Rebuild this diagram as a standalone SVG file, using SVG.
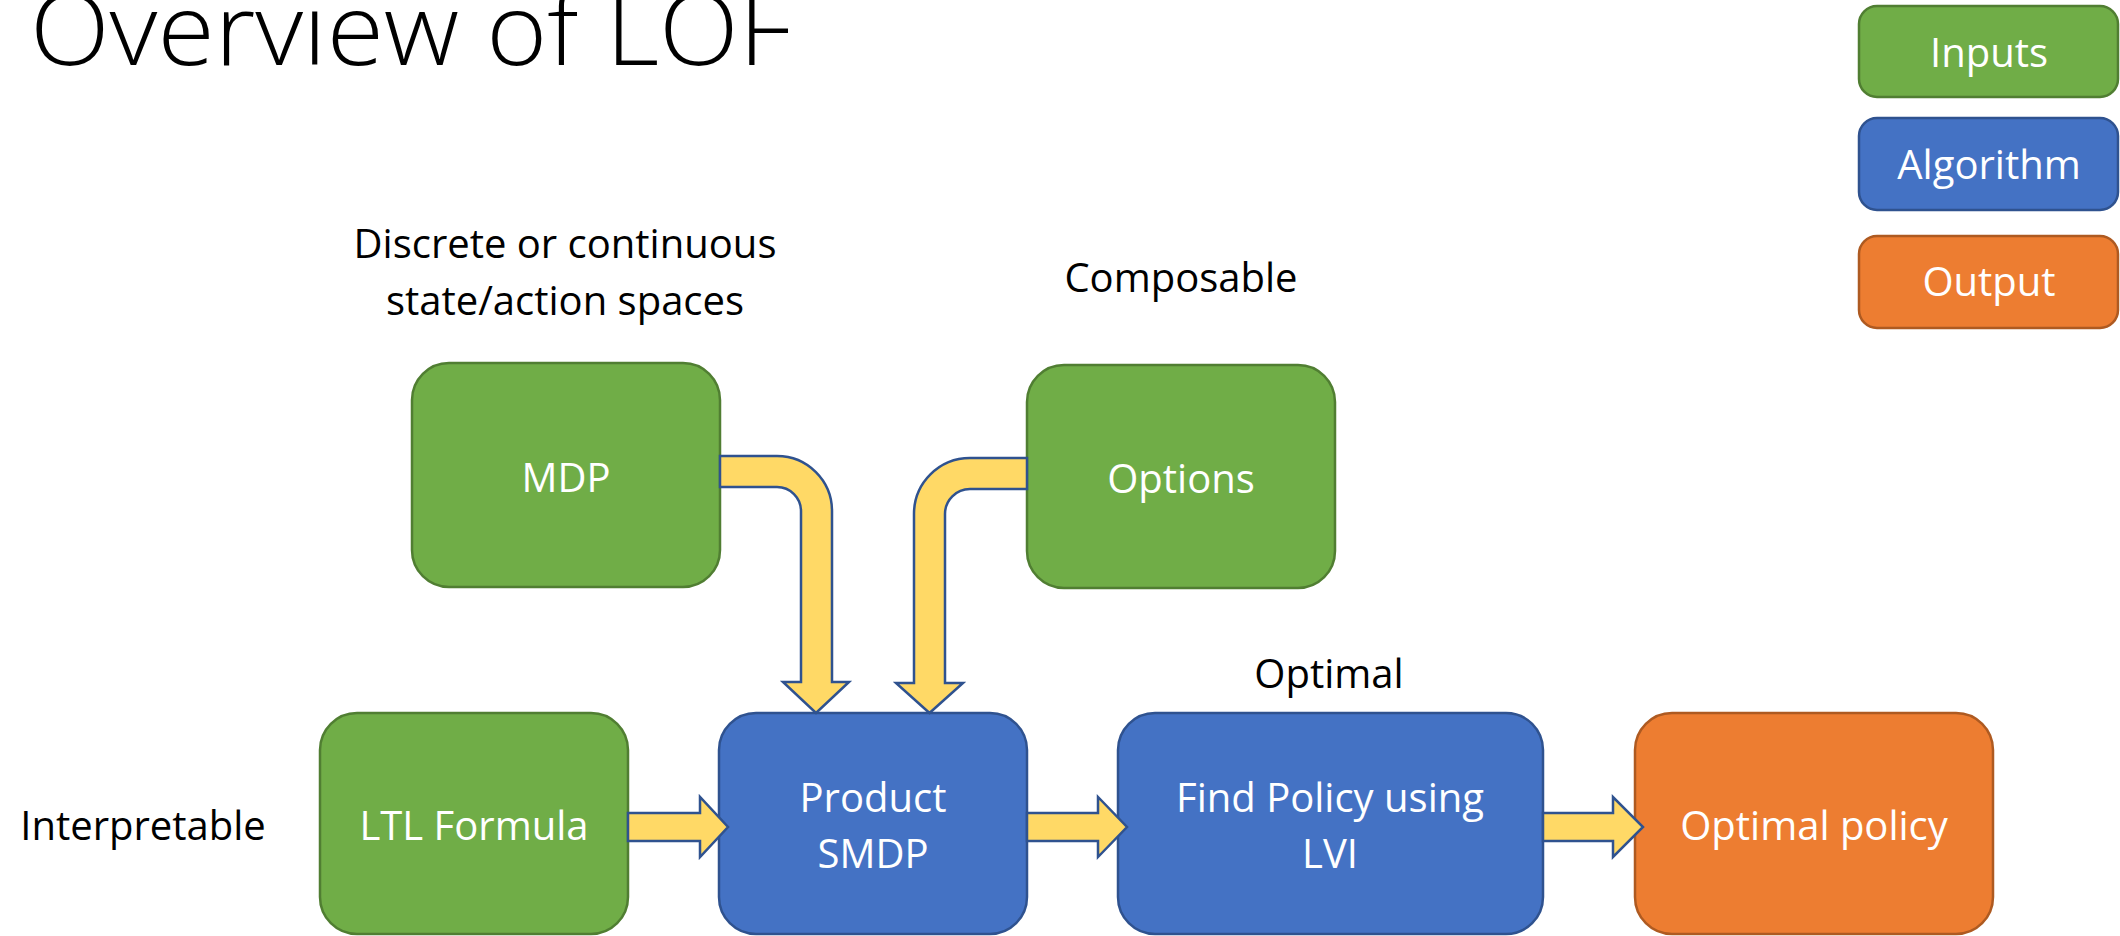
<svg xmlns="http://www.w3.org/2000/svg" width="2120" height="936" viewBox="0 0 2120 936">
<style>
.t{font-family:"Open Sans","Liberation Sans",sans-serif;font-size:40px;text-anchor:middle}
.w{fill:#FFFFFF}
.k{fill:#000000}
.g{fill:#70AD47;stroke:#507E32;stroke-width:2.5}
.b{fill:#4472C4;stroke:#2F528F;stroke-width:2.5}
.o{fill:#ED7D31;stroke:#AE5A21;stroke-width:2.5}
.ar{fill:#FFD966;stroke:#2F528F;stroke-width:2.5;stroke-linejoin:miter}
</style>
<rect width="2120" height="936" fill="#FFFFFF"/>
<text x="30" y="65" font-family="'Open Sans','Liberation Sans',sans-serif" font-weight="300" font-size="100" textLength="761" lengthAdjust="spacingAndGlyphs" fill="#000">Overview of LOF</text>

<g id="legend-inputs"><rect class="g" x="1859" y="6" width="259" height="91" rx="18"/><text class="t w" x="1989" y="67">Inputs</text></g>
<g id="legend-algorithm"><rect class="b" x="1859" y="118" width="259" height="92" rx="18"/><text class="t w" x="1989" y="179">Algorithm</text></g>
<g id="legend-output"><rect class="o" x="1859" y="236" width="259" height="92" rx="18"/><text class="t w" x="1989" y="296">Output</text></g>

<g id="label-discrete"><text class="t k" x="565" y="258">Discrete or continuous</text><text class="t k" x="565" y="315">state/action spaces</text></g>
<g id="label-composable"><text class="t k" x="1181" y="292">Composable</text></g>
<g id="label-interpretable"><text class="t k" x="143" y="840">Interpretable</text></g>
<g id="label-optimal"><text class="t k" x="1329" y="688">Optimal</text></g>

<g id="mdp"><rect class="g" x="412" y="363" width="308" height="224" rx="37"/><text class="t w" x="566" y="492">MDP</text></g>
<g id="options"><rect class="g" x="1027" y="365" width="308" height="223" rx="37"/><text class="t w" x="1181" y="493">Options</text></g>
<g id="ltl"><rect class="g" x="320" y="713" width="308" height="221" rx="37"/><text class="t w" x="474" y="840">LTL Formula</text></g>
<g id="product"><rect class="b" x="719" y="713" width="308" height="221" rx="37"/><text class="t w" x="873" y="812">Product</text><text class="t w" x="873" y="868">SMDP</text></g>
<g id="findpolicy"><rect class="b" x="1118" y="713" width="425" height="221" rx="37"/><text class="t w" x="1330" y="812">Find Policy using</text><text class="t w" x="1330" y="868">LVI</text></g>
<g id="optimalpolicy"><rect class="o" x="1635" y="713" width="358" height="221" rx="37"/><text class="t w" x="1814" y="840">Optimal policy</text></g>

<g id="connectors">
<path class="ar" d="M720,456 H777 A55,55 0 0 1 832,511 V682 H849 L816,713 L783,682 H801 V511 A24,24 0 0 0 777,487 H720 Z"/>
<path class="ar" d="M1027,458 H970 A56,56 0 0 0 914,514 V683 H896 L929.5,713 L963,683 H945 V514 A25,25 0 0 1 970,489 H1027 Z"/>
<path class="ar" d="M628,813 H700 V797 L728,827 L700,857 V841 H628 Z"/>
<path class="ar" d="M1027,813 H1098 V797 L1127,827 L1098,857 V841 H1027 Z"/>
<path class="ar" d="M1543,813 H1613 V797 L1643,827 L1613,857 V841 H1543 Z"/>
</g>
</svg>
